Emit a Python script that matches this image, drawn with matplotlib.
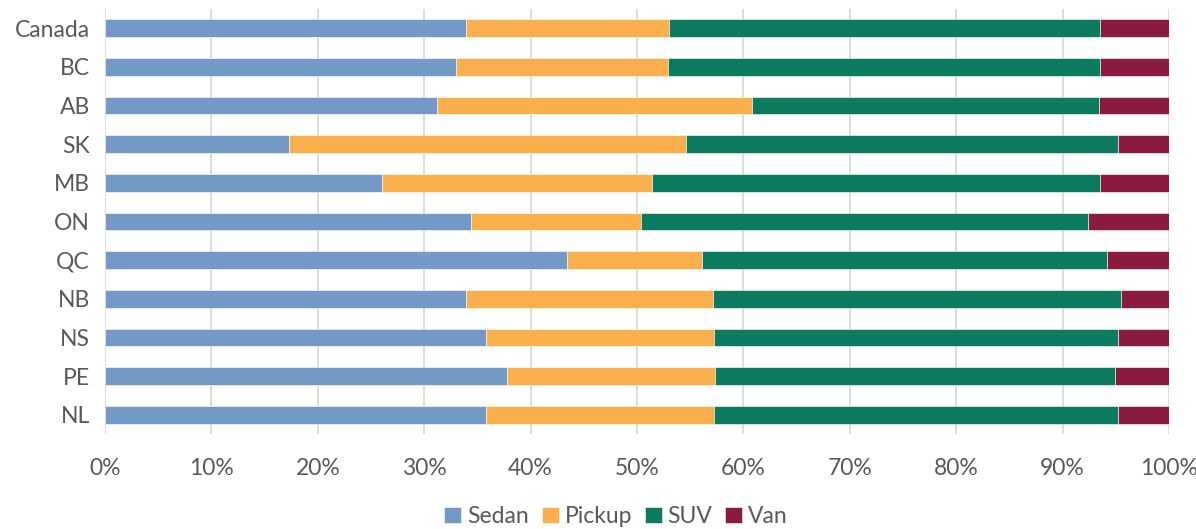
import matplotlib
matplotlib.use("Agg")
import matplotlib.pyplot as plt
import numpy as np
from matplotlib.ticker import PercentFormatter

regions = ["Canada", "BC", "AB", "SK", "MB", "ON", "QC", "NB", "NS", "PE", "NL"]
# cumulative boundaries (percent)
sedan_end  = [33.9, 33.0, 31.2, 17.3, 26.0, 34.4, 43.4, 33.9, 35.8, 37.8, 35.8]
pickup_end = [53.0, 52.9, 60.8, 54.6, 51.4, 50.4, 56.1, 57.1, 57.2, 57.3, 57.2]
suv_end    = [93.5, 93.5, 93.4, 95.2, 93.5, 92.4, 94.2, 95.5, 95.2, 94.9, 95.2]

sedan  = sedan_end
pickup = [p - s for p, s in zip(pickup_end, sedan_end)]
suv    = [v - p for v, p in zip(suv_end, pickup_end)]
van    = [100 - v for v in suv_end]

series = [("Sedan", sedan, "#7399C6"),
          ("Pickup", pickup, "#F9B04C"),
          ("SUV", suv, "#0B7A5F"),
          ("Van", van, "#8B1A3F")]

plt.rcParams['font.family'] = ['Lato', 'DejaVu Sans']
text_color = "#595959"

fig = plt.figure(figsize=(11.96, 5.29), dpi=100)
ax = fig.add_axes([105/1196, 1 - 434/529, 1064/1196, 425/529])

y = np.arange(len(regions))
left = np.zeros(len(regions))
for name, vals, col in series:
    ax.barh(y, vals, left=left, height=0.46, color=col, label=name,
            edgecolor="white", linewidth=0.4, zorder=3)
    left += np.array(vals)

ax.set_xlim(0, 100)
ax.set_ylim(len(regions) - 0.5, -0.5)
ax.set_yticks(y)
ax.set_yticklabels(regions)
ax.set_xticks(np.arange(0, 101, 10))
ax.xaxis.set_major_formatter(PercentFormatter(decimals=0))
ax.tick_params(axis='both', length=0, colors=text_color, labelsize=16.5)
ax.tick_params(axis='x', pad=17)
ax.tick_params(axis='y', pad=11)
ax.grid(axis='x', color="#D9D9D9", linewidth=1.3, zorder=0)
for s in ax.spines.values():
    s.set_visible(False)

leg = fig.legend(loc='lower center', bbox_to_anchor=(0.515, -0.035), ncol=4,
                 frameon=False, fontsize=16.5, handlelength=0.75, handleheight=0.75,
                 handletextpad=0.25, columnspacing=0.55, labelcolor=text_color)

fig.savefig("out.png", dpi=100)
